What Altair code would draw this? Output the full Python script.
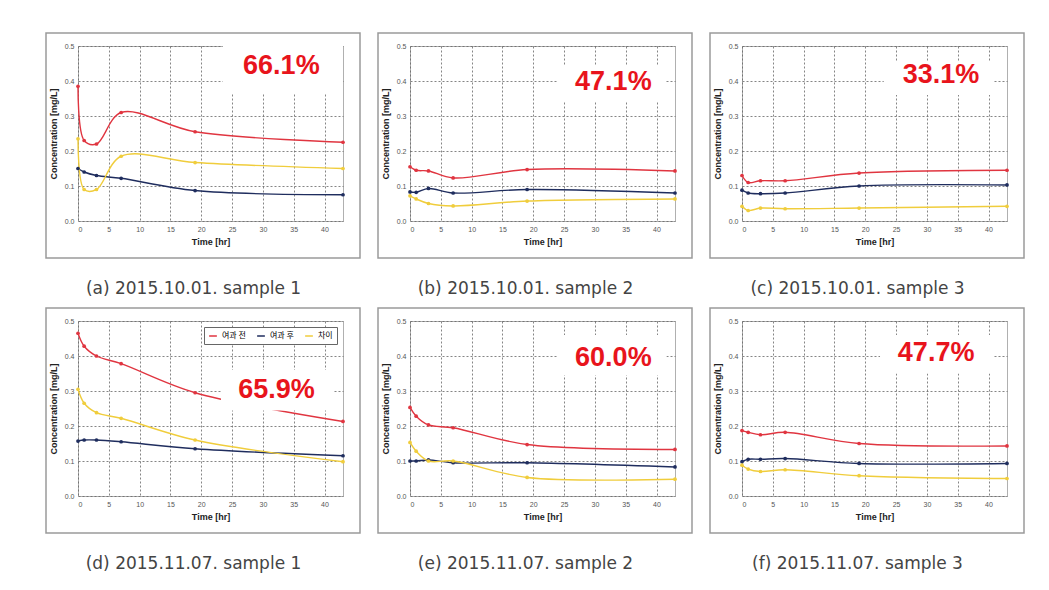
import altair as alt
import pandas as pd

TIME = [0, 1, 3, 7, 19, 43]
SERIES = ["여과 전", "여과 후", "차이"]
COLORS = ["#e03540", "#1f2d5e", "#f0cd3c"]

CAPTIONS = [
    "(a) 2015.10.01. sample 1",
    "(b) 2015.10.01. sample 2",
    "(c) 2015.10.01. sample 3",
    "(d) 2015.11.07. sample 1",
    "(e) 2015.11.07. sample 2",
    "(f) 2015.11.07. sample 3",
]
BEFORE = [
    [0.385, 0.230, 0.220, 0.310, 0.255, 0.225],
    [0.155, 0.145, 0.143, 0.123, 0.147, 0.143],
    [0.130, 0.110, 0.115, 0.115, 0.137, 0.145],
    [0.465, 0.428, 0.400, 0.378, 0.295, 0.213],
    [0.253, 0.228, 0.203, 0.195, 0.147, 0.133],
    [0.187, 0.182, 0.175, 0.182, 0.150, 0.143],
]
AFTER = [
    [0.150, 0.140, 0.130, 0.122, 0.087, 0.075],
    [0.083, 0.082, 0.093, 0.080, 0.090, 0.080],
    [0.088, 0.080, 0.078, 0.080, 0.100, 0.103],
    [0.157, 0.160, 0.160, 0.155, 0.135, 0.115],
    [0.100, 0.100, 0.103, 0.095, 0.095, 0.083],
    [0.098, 0.105, 0.105, 0.107, 0.093, 0.093],
]
DIFF = [
    [0.235, 0.090, 0.090, 0.185, 0.167, 0.150],
    [0.072, 0.063, 0.050, 0.043, 0.057, 0.063],
    [0.042, 0.030, 0.037, 0.035, 0.037, 0.042],
    [0.305, 0.265, 0.238, 0.222, 0.160, 0.098],
    [0.153, 0.128, 0.100, 0.100, 0.053, 0.048],
    [0.088, 0.077, 0.070, 0.075, 0.058, 0.050],
]
RATES = ["66.1%", "47.1%", "33.1%", "65.9%", "60.0%", "47.7%"]
# label anchor (time, conc) and white box extents (x1, x2, y1, y2)
LABEL_X = [33.0, 33.0, 32.3, 32.2, 33.0, 31.5]
LABEL_Y = [0.443, 0.398, 0.417, 0.302, 0.393, 0.408]
BOX_X1 = [23.5, 24.0, 23.0, 23.2, 24.0, 22.4]
BOX_X2 = [43.0, 41.5, 40.8, 41.5, 41.6, 40.8]
BOX_Y1 = [0.365, 0.340, 0.360, 0.244, 0.345, 0.350]
BOX_Y2 = [0.500, 0.445, 0.455, 0.360, 0.460, 0.460]

W, H = 265, 175
FONT = "Liberation Sans"

X_AXIS = alt.Axis(values=[0, 5, 10, 15, 20, 25, 30, 35, 40], title="Time [hr]")
Y_AXIS = alt.Axis(values=[0, 0.1, 0.2, 0.3, 0.4, 0.5], format=".1f",
                  title="Concentration [mg/L]")
X_SCALE = alt.Scale(domain=[0, 43], nice=False, zero=False)
Y_SCALE = alt.Scale(domain=[0, 0.5], nice=False)


def panel(i):
    rows = []
    for s, vals in zip(SERIES, [BEFORE[i], AFTER[i], DIFF[i]]):
        for t, v in zip(TIME, vals):
            rows.append({"time": t, "value": v, "series": s})
    df = pd.DataFrame(rows)

    if i == 3:
        legend = alt.Legend(
            title=None, orient="top-right", direction="horizontal",
            fillColor="white", strokeColor="#666", padding=4, offset=6,
            labelFontSize=8, labelFont="Noto Sans CJK KR", symbolType="stroke",
            symbolStrokeWidth=1.5, symbolSize=60, columnPadding=8,
        )
    else:
        legend = None

    x = alt.X("time:Q", scale=X_SCALE, axis=X_AXIS)
    y = alt.Y("value:Q", scale=Y_SCALE, axis=Y_AXIS)
    color = alt.Color("series:N", scale=alt.Scale(domain=SERIES, range=COLORS),
                      legend=legend)

    frame = alt.Chart(pd.DataFrame({"k": [0]})).mark_rect(
        filled=False, stroke="#9a9a9a", strokeWidth=1.5
    ).encode(x=alt.value(-32), x2=alt.value(W + 17),
             y=alt.value(-13), y2=alt.value(H + 37))

    lines = alt.Chart(df).mark_line(interpolate="catmull-rom", strokeWidth=1.4).encode(
        x=x, y=y, color=color, order=alt.Order("time:Q"))
    pts = alt.Chart(df).mark_point(filled=True, size=14, opacity=1).encode(
        x=x, y=y, color=color)

    boxdf = pd.DataFrame({"time": [BOX_X1[i]], "time2": [BOX_X2[i]],
                          "value": [BOX_Y1[i]], "value2": [BOX_Y2[i]]})
    box = alt.Chart(boxdf).mark_rect(fill="white").encode(
        x=x, x2="time2:Q", y=y, y2="value2:Q")
    txtdf = pd.DataFrame({"time": [LABEL_X[i]], "value": [LABEL_Y[i]],
                          "txt": [RATES[i]]})
    txt = alt.Chart(txtdf).mark_text(
        fontSize=27, fontWeight="bold", color="#e8141c", font=FONT
    ).encode(x=x, y=y, text="txt:N")

    return alt.layer(frame, lines, pts, box, txt).properties(
        width=W, height=H,
        title=alt.TitleParams(text=CAPTIONS[i], orient="bottom", fontSize=17,
                              fontWeight="normal", color="#444",
                              font="DejaVu Sans", offset=22, dx=-17),
    )


chart = alt.concat(*[panel(i) for i in range(6)], columns=3,
                   spacing={"row": 8, "column": 14}).resolve_scale(
    color="independent").resolve_legend(color="independent").properties(
    padding={"left": 36, "top": 23, "right": 0, "bottom": 0}
).configure_view(stroke="#b0b0b0", strokeWidth=1).configure_axis(
    labelFont=FONT, labelFontSize=7, labelColor="#555", titleFont=FONT,
    titleFontSize=9, titleFontWeight="bold", titleColor="#222",
    grid=True, gridColor="#666", gridDash=[2, 2], gridWidth=0.8,
    domain=False, ticks=False, labelPadding=4, titlePadding=5,
    labelOverlap=False,
).configure_axisY(titlePadding=6)

chart.save("out.html", embed_options={"renderer": "svg", "actions": False})
